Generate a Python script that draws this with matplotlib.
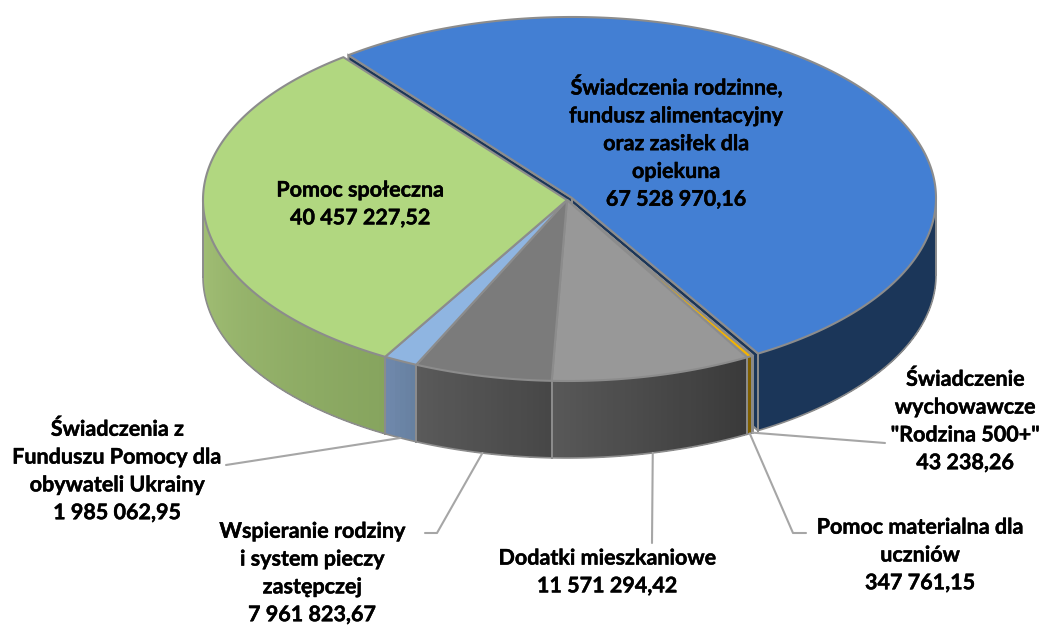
import numpy as np
import matplotlib
matplotlib.use("Agg")
import matplotlib.pyplot as plt
import matplotlib.patheffects as pe
from matplotlib.colors import to_rgb

names = ["Świadczenia rodzinne,\nfundusz alimentacyjny\noraz zasiłek dla\nopiekuna",
         "Świadczenie\nwychowawcze\n\"Rodzina 500+\"",
         "Pomoc materialna dla\nuczniów",
         "Dodatki mieszkaniowe",
         "Wspieranie rodziny\ni system pieczy\nzastępczej",
         "Świadczenia z\nFunduszu Pomocy dla\nobywateli Ukrainy",
         "Pomoc społeczna"]
values = [67528970.16, 43238.26, 347761.15, 11571294.42, 7961823.67, 1985062.95, 40457227.52]
value_labels = ["67 528 970,16", "43 238,26", "347 761,15", "11 571 294,42",
                "7 961 823,67", "1 985 062,95", "40 457 227,52"]
top_colors = ["#437FD3", "#C55A11", "#F4B400", "#989898", "#7B7B7B", "#8FB5E1", "#B1D780"]
wall_left = ["#1B3659", "#7A3A0A", "#7F5F00", "#585858", "#5A5A5A", "#7089AD", "#A3C076"]
wall_right = ["#1B3659", "#7A3A0A", "#7F5F00", "#3A3A3A", "#474747", "#66809F", "#86A45E"]

label_pos = [(676, 142), (965, 421), (920, 555), (607, 572), (312, 573), (117, 471), (360, 204)]
elbows = [None, [(885, 443)], [(793, 533), (806, 533)], [(652, 543)],
          [(437, 533), (425, 533)], [(226, 465)], None]

START = 127.9
CX, CY, A, B, DEPTH = 567.0, 200.0, 364.0, 181.0, 77.0
BLUE_OFF = (5.0, -2.0)
EDGE = "#8C8C8C"

fig = plt.figure(figsize=(10.41, 6.26), dpi=100)
ax = fig.add_axes([0, 0, 1, 1])
ax.set_xlim(0, 1041)
ax.set_ylim(626, 0)
ax.axis("off")

sweep = np.array(values) / sum(values) * 360
ends = START - np.cumsum(sweep)
starts = ends + sweep


def rim(theta, off=(0, 0), drop=0.0):
    t = np.radians(theta)
    return CX + off[0] + A * np.cos(t), CY + off[1] - B * np.sin(t) + drop


def draw_wall(i, off):
    lo, hi = ends[i], starts[i]
    # the front half of the pie runs from 180 to 360 degrees
    spans = []
    for k in (-360, 0, 360):
        a, b = max(lo, 180 + k), min(hi, 360 + k)
        if b > a:
            spans.append((a, b))
    c0, c1 = np.array(to_rgb(wall_left[i])), np.array(to_rgb(wall_right[i]))
    for a, b in spans:
        th = np.linspace(a, b, max(2, int(b - a) + 2))
        x0, y0 = rim(th, off)
        # each band covers everything to its right, so no seams appear
        for j in range(len(th) - 1):
            f = (j + 0.5) / (len(th) - 1)
            col = c0 + (c1 - c0) * f
            ax.fill(np.r_[x0[j:], x0[j:][::-1]], np.r_[y0[j:], y0[j:][::-1] + DEPTH],
                    color=col, lw=0, zorder=2)
        ax.plot(x0, y0 + DEPTH, color=EDGE, lw=1.2, zorder=3)
        ax.plot([x0[0], x0[0]], [y0[0], y0[0] + DEPTH], color=EDGE, lw=1.4, zorder=3)
        ax.plot([x0[-1], x0[-1]], [y0[-1], y0[-1] + DEPTH], color=EDGE, lw=1.4, zorder=3)


def draw_top(i, off, z=4):
    th = np.linspace(starts[i], ends[i], max(2, int(sweep[i] * 2) + 2))
    x, y = rim(th, off)
    ax.fill(np.r_[CX + off[0], x], np.r_[CY + off[1], y], facecolor=top_colors[i],
            edgecolor=EDGE, lw=1.5, joinstyle="round", zorder=z)


# cut faces of the pulled-out first slice sit behind everything else
bx, by = CX + BLUE_OFF[0], CY + BLUE_OFF[1]
for ang in (starts[0], ends[0]):
    xe, ye = rim(ang, BLUE_OFF)
    ax.fill([bx, xe, xe, bx], [by, ye, ye + DEPTH, by + DEPTH], facecolor="#1B3659",
            edgecolor=EDGE, lw=1.5, zorder=1)

draw_wall(0, BLUE_OFF)
for i in range(1, len(values)):
    draw_wall(i, (0, 0))
for i in range(1, len(values)):
    draw_top(i, (0, 0))
draw_top(0, BLUE_OFF)

# leader lines
for i, pts in enumerate(elbows):
    if pts is None:
        continue
    mid = (starts[i] + ends[i]) / 2
    x, y = rim(mid, (0, 0), DEPTH)
    xs = [x] + [p[0] for p in pts]
    ys = [y] + [p[1] for p in pts]
    ax.plot(xs, ys, color="#A6A6A6", lw=1.5, zorder=5, solid_capstyle="round")

for i, (name, val) in enumerate(zip(names, value_labels)):
    ax.text(label_pos[i][0], label_pos[i][1], name + "\n" + val, ha="center", va="center",
            multialignment="center", family="Lato", weight="bold", fontsize=15.5,
            linespacing=1.4, color="black", zorder=6,
            path_effects=[pe.withStroke(linewidth=0.3, foreground="black")])

fig.savefig("out.png", dpi=100, facecolor="white")
